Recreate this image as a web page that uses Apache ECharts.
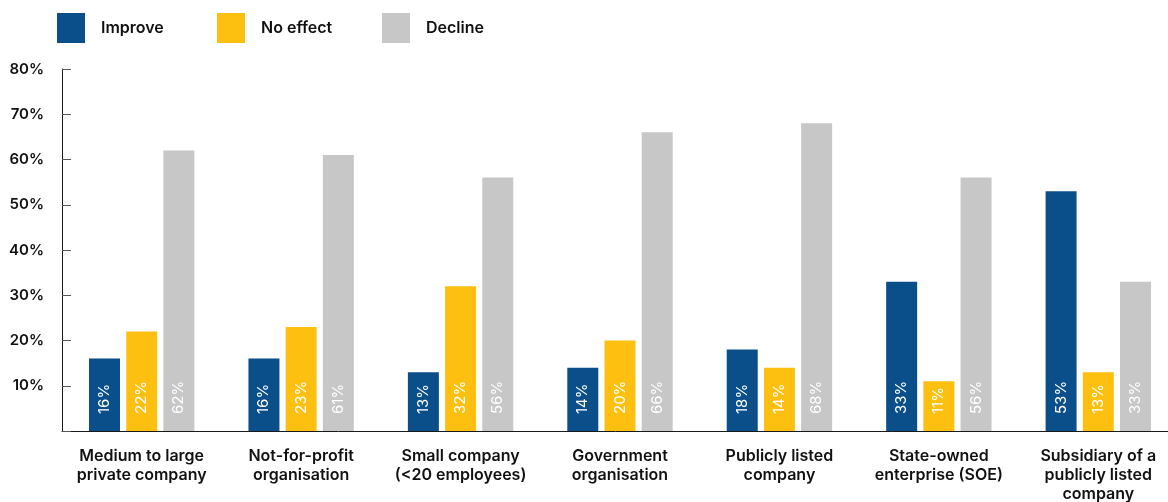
<!DOCTYPE html>
<html>
<head>
<meta charset="utf-8">
<script src="https://cdn.jsdelivr.net/npm/echarts@6/dist/echarts.min.js"></script>
<style>
  html, body { margin: 0; padding: 0; background: #fff; }
  #chart { width: 1168px; height: 502px; }
</style>
</head>
<body>
<div id="chart"></div>
<script>
// Organisation types along the x axis
const categories = [
  'Medium to large\nprivate company',
  'Not-for-profit\norganisation',
  'Small company\n(<20 employees)',
  'Government\norganisation',
  'Publicly listed\ncompany',
  'State-owned\nenterprise (SOE)',
  'Subsidiary of a\npublicly listed\ncompany'
];

// Share of respondents (%) per expected outcome
const improve  = [16, 16, 13, 14, 18, 33, 53];
const noEffect = [22, 23, 32, 20, 14, 11, 13];
const decline  = [62, 61, 56, 66, 68, 56, 33];

const seriesNames = ['Improve', 'No effect', 'Decline'];
const colors = ['#0a4e8a', '#fdc010', '#c6c7c6'];

const FONT = 'Inter, Roboto, "Noto Sans", sans-serif';

const chart = echarts.init(document.getElementById('chart'), null, { renderer: 'canvas' });

const barLabel = {
  show: true,
  position: 'insideBottom',
  rotate: 90,
  align: 'left',
  verticalAlign: 'middle',
  distance: 17,
  color: '#ffffff',
  fontFamily: FONT,
  fontSize: 15,
  formatter: '{c}%'
};

function makeSeries(name, data, color) {
  return {
    name: name,
    type: 'bar',
    data: data,
    barWidth: 31,
    barGap: '20%',
    itemStyle: { color: color },
    label: barLabel,
    emphasis: { disabled: true }
  };
}

// One legend block per series so each key sits at its own x position
const legendLefts = [57, 217, 382];
const legends = seriesNames.map((name, i) => ({
  left: legendLefts[i],
  top: 13,
  padding: 0,
  itemWidth: 28,
  itemHeight: 30,
  icon: 'rect',
  data: [name],
  selectedMode: false,
  textStyle: {
    fontFamily: FONT,
    fontSize: 16,
    fontWeight: 600,
    color: '#111',
    padding: [0, 0, 0, 11]
  }
}));

chart.setOption({
  animation: false,
  color: colors,
  legend: legends,
  grid: {
    left: 62, right: -10, top: 69, bottom: 71,
    containLabel: false,
    outerBoundsMode: 'none'
  },
  xAxis: {
    type: 'category',
    data: categories,
    axisLine: { lineStyle: { color: '#1a1a1a', width: 1 } },
    axisTick: { show: false },
    axisLabel: {
      interval: 0,
      margin: 16,
      fontFamily: FONT,
      fontSize: 16,
      fontWeight: 600,
      color: '#111',
      lineHeight: 19
    }
  },
  yAxis: {
    type: 'value',
    min: 0,
    max: 80,
    interval: 10,
    axisLine: { show: true, lineStyle: { color: '#1a1a1a', width: 1 } },
    axisTick: { show: true, inside: true, length: 9, lineStyle: { color: '#555' } },
    splitLine: { show: false },
    axisLabel: {
      margin: 18,
      fontFamily: FONT,
      fontSize: 15,
      fontWeight: 600,
      color: '#111',
      formatter: v => (v === 0 ? '' : v + '%')
    }
  },
  series: [
    makeSeries(seriesNames[0], improve, colors[0]),
    makeSeries(seriesNames[1], noEffect, colors[1]),
    makeSeries(seriesNames[2], decline, colors[2])
  ]
});
</script>
</body>
</html>
